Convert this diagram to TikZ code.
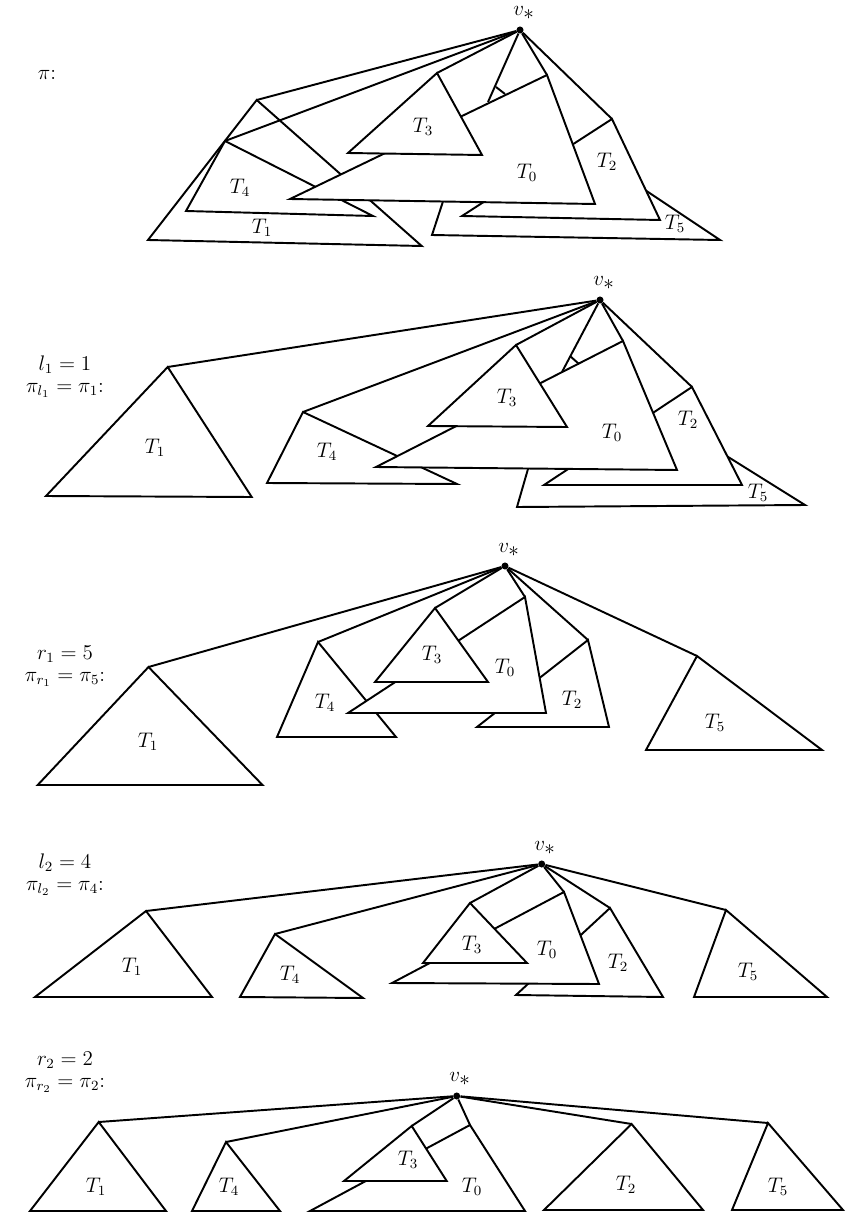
\documentclass[tikz,border=0pt]{standalone}

\begin{document}
\begin{tikzpicture}[
      x=0.02cm,y=-0.02cm,
      tree/.style={draw,fill=white,line width=1.1pt},
      edge/.style={line width=1.1pt},
      vstar/.style={circle,fill,inner sep=0pt,minimum size=4pt},
      tlab/.style={font=\large},
      side/.style={font=\large,align=center}
  ]
    \useasboundingbox (0,0) rectangle (846,1213);

    % pi
    \node[side] (p1-lab) at (47,75) {$\pi$:};
    \draw[tree] (432,235) -- (450,180) -- (585,150) -- (720,240) -- cycle;
    \draw[tree] (462,216) -- (612,119) coordinate (p1-a2) -- (660,220) -- cycle;
    \draw[tree] (148,240) -- (256.7,100) coordinate (p1-a1) -- (421.7,246) -- cycle;
    \draw[tree] (186,211) -- (225,141) coordinate (p1-a4) -- (373,216) -- cycle;
    \draw[tree] (290,199) -- (547,75) coordinate (p1-a0) -- (595,204) -- cycle;
    \draw[tree] (348,153) -- (437,73) coordinate (p1-a3) -- (482,155) -- cycle;
    \coordinate (p1-s0) at (488,102);
    \node[vstar] (v1) at (520,30) {};
    \node[tlab] (v1-lab) at (524,13) {$v_{\textstyle *}$};
    \node[tlab] (p1-t0) at (527,173) {$T_0$};
    \node[tlab] (p1-t1) at (262,228) {$T_1$};
    \node[tlab] (p1-t2) at (607,162) {$T_2$};
    \node[tlab] (p1-t3) at (423,127) {$T_3$};
    \node[tlab] (p1-t4) at (240,188) {$T_4$};
    \node[tlab] (p1-t5) at (675,224) {$T_5$};
    \draw[edge] (v1) -- (p1-a1);
    \draw[edge] (v1) -- (p1-a4);
    \draw[edge] (v1) -- (p1-a3);
    \draw[edge] (v1) -- (p1-s0);
    \draw[edge] (v1) -- (p1-a0);
    \draw[edge] (v1) -- (p1-a2);
    \draw[edge] (496,87) -- (505,94);

    % l_1 = 1
    \node[side] (p2-lab) at (65,377) {$l_1 = 1$\\[-1.5pt]$\pi_{l_1} = \pi_1$:};
    \draw[tree] (517,507) -- (530,462) -- (669,420) -- (805,505) -- cycle;
    \draw[tree] (544,485) -- (692,387) coordinate (p2-a2) -- (742,485) -- cycle;
    \draw[tree] (267,483) -- (303,412) coordinate (p2-a4) -- (457,484) -- cycle;
    \draw[tree] (376,467) -- (623,341) coordinate (p2-a0) -- (677,470) -- cycle;
    \draw[tree] (428,426) -- (516,345) coordinate (p2-a3) -- (567,427) -- cycle;
    \draw[tree] (46,496) -- (167.7,367) coordinate (p2-a1) -- (251.7,497) -- cycle;
    \coordinate (p2-s0) at (562,372);
    \node[vstar] (v2) at (600,300) {};
    \node[tlab] (v2-lab) at (604,283) {$v_{\textstyle *}$};
    \node[tlab] (p2-t0) at (612,433) {$T_0$};
    \node[tlab] (p2-t1) at (155,448) {$T_1$};
    \node[tlab] (p2-t2) at (688,420) {$T_2$};
    \node[tlab] (p2-t3) at (507,398) {$T_3$};
    \node[tlab] (p2-t4) at (327,452) {$T_4$};
    \node[tlab] (p2-t5) at (758,493) {$T_5$};
    \draw[edge] (v2) -- (p2-a1);
    \draw[edge] (v2) -- (p2-a4);
    \draw[edge] (v2) -- (p2-a3);
    \draw[edge] (v2) -- (p2-s0);
    \draw[edge] (v2) -- (p2-a0);
    \draw[edge] (v2) -- (p2-a2);
    \draw[edge] (570,356) -- (579,364);

    % r_1 = 5
    \node[side] (p3-lab) at (65,666) {$r_1 = 5$\\[-1.5pt]$\pi_{r_1} = \pi_5$:};
    \draw[tree] (477,727) -- (588,640) coordinate (p3-a2) -- (609,727) -- cycle;
    \draw[tree] (277,737) -- (318,642) coordinate (p3-a4) -- (396,737) -- cycle;
    \draw[tree] (348,713) -- (525,597) coordinate (p3-a0) -- (546,713) -- cycle;
    \draw[tree] (375,682) -- (435,608) coordinate (p3-a3) -- (488,682) -- cycle;
    \draw[tree] (37.7,785) -- (148.5,667) coordinate (p3-a1) -- (262.5,785) -- cycle;
    \draw[tree] (646,750) -- (697,656) coordinate (p3-a5) -- (822,750) -- cycle;
    \node[vstar] (v3) at (505,566) {};
    \node[tlab] (v3-lab) at (509,550) {$v_{\textstyle *}$};
    \node[tlab] (p3-t0) at (505,668) {$T_0$};
    \node[tlab] (p3-t1) at (148,742) {$T_1$};
    \node[tlab] (p3-t2) at (572,700) {$T_2$};
    \node[tlab] (p3-t3) at (432,655) {$T_3$};
    \node[tlab] (p3-t4) at (325,703) {$T_4$};
    \node[tlab] (p3-t5) at (715,723) {$T_5$};
    \draw[edge] (v3) -- (p3-a1);
    \draw[edge] (v3) -- (p3-a4);
    \draw[edge] (v3) -- (p3-a3);
    \draw[edge] (v3) -- (p3-a0);
    \draw[edge] (v3) -- (p3-a2);
    \draw[edge] (v3) -- (p3-a5);

    % l_2 = 4
    \node[side] (p4-lab) at (65,875) {$l_2 = 4$\\[-1.5pt]$\pi_{l_2} = \pi_4$:};
    \draw[tree] (516,995) -- (610,908) coordinate (p4-a2) -- (663,997) -- cycle;
    \draw[tree] (392,983) -- (564,892) coordinate (p4-a0) -- (599,984) -- cycle;
    \draw[tree] (423,963) -- (470,903) coordinate (p4-a3) -- (527,963) -- cycle;
    \draw[tree] (35,997) -- (146,911) coordinate (p4-a1) -- (212,997) -- cycle;
    \draw[tree] (240,997) -- (275,934) coordinate (p4-a4) -- (363,998) -- cycle;
    \draw[tree] (694,997) -- (726,910) coordinate (p4-a5) -- (827,997) -- cycle;
    \node[vstar] (v4) at (541.7,864) {};
    \node[tlab] (v4-lab) at (545,848) {$v_{\textstyle *}$};
    \node[tlab] (p4-t0) at (547,950) {$T_0$};
    \node[tlab] (p4-t1) at (132,967) {$T_1$};
    \node[tlab] (p4-t2) at (618,963) {$T_2$};
    \node[tlab] (p4-t3) at (472,945) {$T_3$};
    \node[tlab] (p4-t4) at (290,975) {$T_4$};
    \node[tlab] (p4-t5) at (748,972) {$T_5$};
    \draw[edge] (v4) -- (p4-a1);
    \draw[edge] (v4) -- (p4-a4);
    \draw[edge] (v4) -- (p4-a3);
    \draw[edge] (v4) -- (p4-a0);
    \draw[edge] (v4) -- (p4-a2);
    \draw[edge] (v4) -- (p4-a5);

    % r_2 = 2
    \node[side] (p5-lab) at (65,1072) {$r_2 = 2$\\[-1.5pt]$\pi_{r_2} = \pi_2$:};
    \draw[tree] (310,1211) -- (470,1125) coordinate (p5-a0) -- (525,1211) -- cycle;
    \draw[tree] (344,1181) -- (411.7,1126) coordinate (p5-a3) -- (446.7,1181) -- cycle;
    \draw[tree] (30,1211) -- (98.7,1122) coordinate (p5-a1) -- (166,1211) -- cycle;
    \draw[tree] (192,1211) -- (226,1142) coordinate (p5-a4) -- (280,1211) -- cycle;
    \draw[tree] (544,1210) -- (631.6,1124) coordinate (p5-a2) -- (703,1210) -- cycle;
    \draw[tree] (732,1210) -- (768,1123) coordinate (p5-a5) -- (843,1210) -- cycle;
    \node[vstar] (v5) at (456.7,1096) {};
    \node[tlab] (v5-lab) at (460,1079) {$v_{\textstyle *}$};
    \node[tlab] (p5-t0) at (472,1187) {$T_0$};
    \node[tlab] (p5-t1) at (96,1187) {$T_1$};
    \node[tlab] (p5-t2) at (626,1185) {$T_2$};
    \node[tlab] (p5-t3) at (408,1160) {$T_3$};
    \node[tlab] (p5-t4) at (229,1187) {$T_4$};
    \node[tlab] (p5-t5) at (778,1187) {$T_5$};
    \draw[edge] (v5) -- (p5-a1);
    \draw[edge] (v5) -- (p5-a4);
    \draw[edge] (v5) -- (p5-a3);
    \draw[edge] (v5) -- (p5-a0);
    \draw[edge] (v5) -- (p5-a2);
    \draw[edge] (v5) -- (p5-a5);
  \end{tikzpicture}
\end{document}
